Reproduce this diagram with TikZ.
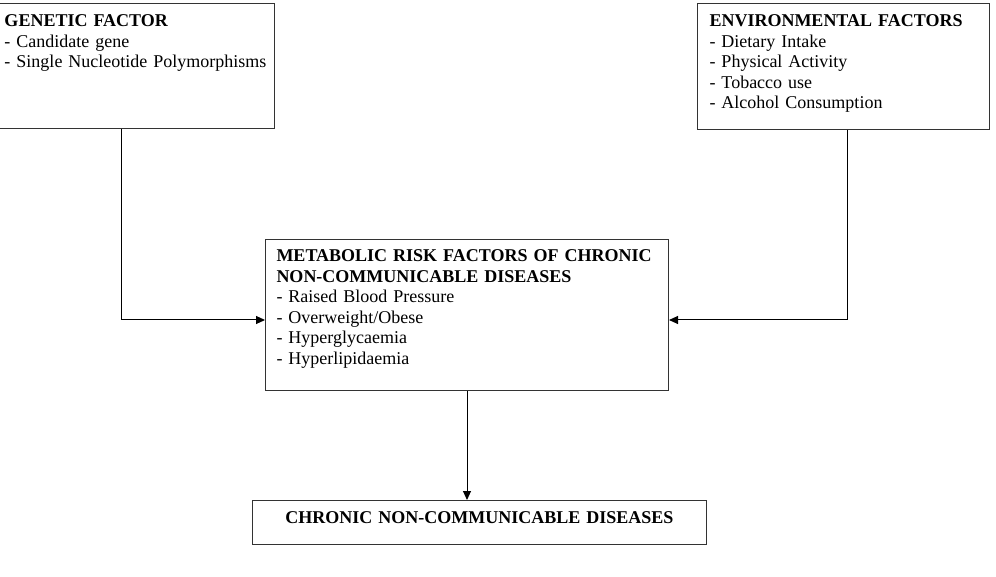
\documentclass[tikz,border=0pt]{standalone}
\usepackage{fontspec}
\setmainfont{Liberation Serif}
\usetikzlibrary{arrows.meta,positioning,calc}

\begin{document}
\begin{tikzpicture}[
  x=1pt, y=-1pt,
  box/.style={draw=black!80,line width=1pt,anchor=north west,align=left,
              inner ysep=0pt,font=\fontsize{18}{20.6}\selectfont},
  arr/.style={-{Triangle[length=9pt,width=8pt]},line width=1pt}
]
  \useasboundingbox (0,0) rectangle (996,577);

  % Factor boxes: genetic top-left, environmental top-right
  \node[box,inner xsep=5.5pt,text width=264.5pt,text height=23pt,text depth=102pt] (gen) at (-1.5,3)
    {\textbf{GENETIC FACTOR}\\- Candidate gene\\- Single Nucleotide Polymorphisms};
  \node[box,inner xsep=12pt,text width=268pt,text height=23pt,text depth=103pt] (env) at (697,3)
    {\textbf{ENVIRONMENTAL FACTORS}\\- Dietary Intake\\- Physical Activity\\- Tobacco use\\- Alcohol Consumption};

  % Metabolic risk factors in the middle
  \node[box,inner xsep=11pt,text width=381pt,text height=22pt,text depth=129pt] (met) at (265,239)
    {\textbf{METABOLIC RISK FACTORS OF CHRONIC}\\\textbf{NON-COMMUNICABLE DISEASES}\\- Raised Blood Pressure\\- Overweight/Obese\\- Hyperglycaemia\\- Hyperlipidaemia};

  % Outcome at the bottom
  \node[box,align=center,inner xsep=0pt,text width=454pt,text height=23pt,text depth=21pt] (chr) at (252,500)
    {\textbf{CHRONIC NON-COMMUNICABLE DISEASES}};

  % Joints where the side lines turn towards the middle box
  \coordinate (genturn) at (121,320);
  \coordinate (envturn) at (847,320);

  % genetic -> metabolic
  \draw[arr] (gen.south -| genturn) -- (genturn) -- (met.west |- genturn);

  % environmental -> metabolic
  \draw[arr] (env.south -| envturn) -- (envturn) -- (met.east |- envturn);

  % metabolic -> chronic diseases
  \draw[arr] (met.south) -- (met.south |- chr.north);
\end{tikzpicture}
\end{document}
